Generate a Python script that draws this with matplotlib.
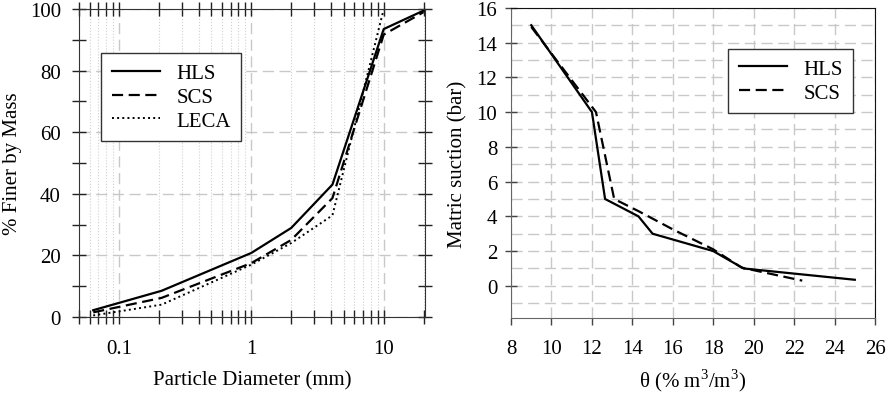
import matplotlib.pyplot as plt
from matplotlib.ticker import MultipleLocator, LogLocator, NullFormatter, FixedLocator
import numpy as np

plt.rcParams['font.family'] = ['Liberation Serif', 'DejaVu Serif']
plt.rcParams['font.size'] = 15
plt.rcParams['mathtext.fontset'] = 'custom'
plt.rcParams['mathtext.rm'] = 'Liberation Serif'

# grading curves (particle diameter mm, % finer)
size_hls = [0.064, 0.21, 1.0, 2.0, 4.1, 10.0, 20.0]
fine_hls = [2.2, 8.5, 20.8, 28.9, 43.0, 93.5, 99.5]
size_scs = [0.064, 0.21, 1.0, 2.0, 4.1, 10.0, 20.0]
fine_scs = [1.5, 6.2, 17.5, 25.0, 38.6, 91.7, 99.0]
size_leca = [0.064, 0.21, 1.0, 2.0, 4.1, 10.0, 20.0]
fine_leca = [0.5, 4.0, 17.0, 24.0, 33.0, 100.0, 100.0]

# water retention (theta %, suction bar)
theta_hls = [9.0, 12.0, 12.65, 14.3, 15.0, 18.0, 19.5, 25.0]
suct_hls = [15.0, 10.0, 5.0, 4.0, 3.0, 2.0, 1.0, 0.35]
theta_scs = [9.0, 12.2, 13.1, 14.3, 16.0, 18.0, 19.4, 22.4]
suct_scs = [14.9, 10.0, 5.0, 4.3, 3.25, 2.1, 1.05, 0.3]

fig = plt.figure(figsize=(8.88, 4.02), dpi=100)
ax1 = fig.add_axes([0.089, 0.209, 0.3896, 0.766])
ax2 = fig.add_axes([0.5755, 0.2065, 0.4099, 0.7715])

# ---- left: particle size distribution
ax1.plot(size_hls, fine_hls, 'k-', lw=1.6, label='HLS')
ax1.plot(size_scs, fine_scs, 'k--', lw=1.6, dashes=(5, 2.5), label='SCS')
ax1.plot(size_leca, fine_leca, 'k:', lw=1.4, label='LECA')
ax1.set_xscale('log')
ax1.set_xlim(0.05, 20.5)
ax1.set_ylim(0, 100)
ax1.xaxis.set_major_locator(FixedLocator([0.1, 1, 10]))
ax1.set_xticklabels(['0.1', '1', '10'])
ax1.xaxis.set_minor_locator(LogLocator(base=10, subs=np.arange(2, 10)))
ax1.xaxis.set_minor_formatter(NullFormatter())
ax1.yaxis.set_major_locator(MultipleLocator(20))
ax1.yaxis.set_minor_locator(MultipleLocator(10))
ax1.tick_params(which='both', direction='inout', top=True, right=True,
                length=10, width=1, color='#222222', pad=8)
ax1.tick_params(axis='x', which='both', pad=11)
ax1.grid(True, which='major', axis='both', ls=(0, (8, 4)), color='#c8c8c8', lw=1)
ax1.grid(True, which='minor', axis='x', ls=':', color='#d0d0d0', lw=0.8)
ax1.set_axisbelow(True)
for s in ax1.spines.values():
    s.set_color('#333333')
ax1.set_xlabel('Particle Diameter (mm)', labelpad=9)
ax1.set_ylabel('% Finer by Mass', labelpad=6)
leg1 = ax1.legend(loc='upper left', bbox_to_anchor=(0.064, 0.857), fancybox=False,
                  framealpha=1, edgecolor='#333333', handlelength=2.3,
                  borderpad=0.5, labelspacing=0.2, borderaxespad=0)
leg1.get_frame().set_linewidth(1)

# ---- right: water retention curve
ax2.plot(theta_hls, suct_hls, 'k-', lw=1.6, label='HLS')
ax2.plot(theta_scs, suct_scs, 'k--', lw=1.6, dashes=(5, 2.5), label='SCS')
ax2.set_xlim(8, 26)
ax2.set_ylim(-1.85, 16)
ax2.xaxis.set_major_locator(MultipleLocator(2))
ax2.set_yticks(np.arange(0, 17, 2))
ax2.yaxis.set_minor_locator(FixedLocator(np.arange(-1, 16, 2)))
ax2.tick_params(axis='y', which='major', direction='inout', length=8, width=1,
                color='#444444', pad=6)
ax2.tick_params(axis='y', which='minor', length=0)
ax2.tick_params(axis='x', which='major', direction='out', length=5, width=1,
                color='#444444', pad=10)
ax2.grid(True, which='both', axis='y', ls=(0, (8, 4)), color='#c8c8c8', lw=1)
ax2.grid(True, which='major', axis='x', ls=(0, (8, 4)), color='#c8c8c8', lw=1)
ax2.set_axisbelow(True)
ax2.spines['left'].set_color('#666666')
ax2.spines['bottom'].set_color('#666666')
ax2.spines['top'].set_color('#111111')
ax2.spines['right'].set_color('#111111')
ax2.set_xlabel('θ (% m$^3$/m$^3$)', labelpad=6)
ax2.set_ylabel('Matric suction (bar)', labelpad=6)
leg2 = ax2.legend(loc='upper right', bbox_to_anchor=(0.94, 0.868), fancybox=False,
                  framealpha=1, edgecolor='#333333', handlelength=2.3,
                  borderpad=0.5, labelspacing=0.2, borderaxespad=0)
leg2.get_frame().set_linewidth(1)

fig.savefig('out.png', dpi=100)
